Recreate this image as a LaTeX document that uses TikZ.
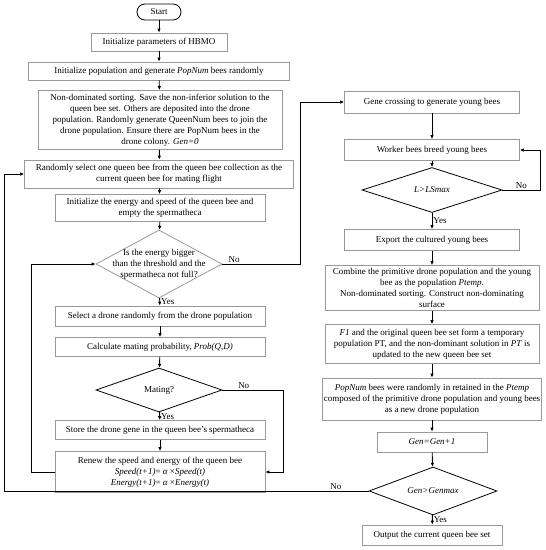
\documentclass[tikz,border=0pt]{standalone}
\usepackage{fontspec}
\setmainfont{Liberation Serif}
\usetikzlibrary{positioning, arrows.meta, shapes.geometric, calc}

\begin{document}
\begin{tikzpicture}[x=1pt, y=-1pt,
    font=\fontsize{9}{11}\selectfont,
    box/.style={rectangle, draw=black!40, line width=0.7pt, align=center, inner sep=1pt},
    decision/.style={diamond, draw, line width=0.8pt, inner sep=0pt},
    flow/.style={-{Latex[length=4pt, width=3.5pt]}, line width=0.9pt},
    tag/.style={inner sep=1pt}]
    \useasboundingbox (0,0) rectangle (546,550);

    % left column
    \node[draw, line width=0.8pt, rounded corners=8pt, minimum width=44pt, minimum height=16pt] (start) at (159,12) {Start};
    \node[box, minimum width=136pt, minimum height=18pt] (init) at (159,42) {Initialize parameters of  HBMO};
    \node[box, minimum width=261pt, minimum height=18pt] (pop) at (159,71) {Initialize population and generate \textit{PopNum} bees randomly};
    \node[box, minimum width=244pt, minimum height=59pt] (sort) at (160,120) {Non-dominated sorting. Save the non-inferior solution to the\\queen bee set. Others are deposited into the drone\\population. Randomly generate QueenNum bees to join the\\drone population. Ensure there are PopNum bees in the\\drone colony. \textit{Gen=0}};
    \node[box, minimum width=269pt, minimum height=28pt] (select) at (159,174) {Randomly select one queen bee from the queen bee collection as the\\current queen bee for mating flight};
    \node[box, minimum width=210pt, minimum height=27pt] (energy) at (160,208) {Initialize the energy and speed of the queen bee and\\empty the spermatheca};
    \node[decision, draw=black!40, minimum width=126pt, minimum height=68pt,
          label={[align=center]center:Is the energy bigger\\than the threshold and the\\spermatheca not full?}] (full) at (159,264) {};
    \node[box, minimum width=210pt, minimum height=20pt] (drone) at (160,316) {Select a drone randomly from the drone population};
    \node[box, minimum width=210pt, minimum height=19pt] (prob) at (160,347) {Calculate mating probability, \textit{Prob(Q,D)}};
    \node[decision, minimum width=126pt, minimum height=44pt, label={center:Mating?}] (mating) at (159,390) {};
    \node[box, minimum width=210pt, minimum height=19pt] (store) at (160,430) {Store the drone gene in the queen bee's spermatheca};
    \node[box, minimum width=210pt, minimum height=41pt] (renew) at (160,472) {Renew the speed and energy of the queen bee\\\textit{Speed(t+1)}= \textit{α} ×\textit{Speed(t)}\\\textit{Energy(t+1)}= \textit{α} ×\textit{Energy(t)}};

    % right column
    \node[box, minimum width=175pt, minimum height=22pt] (cross) at (432,102) {Gene crossing to generate young bees};
    \node[box, minimum width=175pt, minimum height=21pt] (breed) at (432,150) {Worker bees breed young bees};
    \node[decision, minimum width=140pt, minimum height=45pt, label={center:\textit{L>LSmax}}] (lsmax) at (432,190) {};
    \node[box, minimum width=175pt, minimum height=21pt] (export) at (432,240) {Export the cultured young bees};
    \node[box, minimum width=214pt, minimum height=45pt] (combine) at (432,288) {Combine the primitive drone population and the young\\bee as the population \textit{Ptemp}.\\Non-dominated sorting. Construct non-dominating\\surface};
    \node[box, minimum width=214pt, minimum height=39pt] (form) at (432,344) {\textit{F1} and the original queen bee set form a temporary\\population PT, and the non-dominant solution in \textit{PT} is\\updated to the new queen bee set};
    \node[box, minimum width=214pt, minimum height=42pt] (retain) at (432,399) {\textit{PopNum} bees were randomly in retained in the \textit{Ptemp}\\composed of the primitive drone population and young bees\\as a new drone population};
    \node[box, minimum width=110pt, minimum height=20pt] (inc) at (432,442) {\textit{Gen=Gen+1}};
    \node[decision, minimum width=128pt, minimum height=48pt, label={center:\textit{Gen>Genmax}}] (genmax) at (433,491) {};
    \node[box, minimum width=140pt, minimum height=20pt] (output) at (432,535) {Output the current queen bee set};

    % main flow
    \draw[flow] (start) -- (init);
    \draw[flow] (init) -- (pop);
    \draw[flow] (pop) -- (sort);
    \draw[flow] (sort) -- (select);
    \draw[flow] (select) -- (energy);
    \draw[flow] (energy) -- (full);
    \draw[flow] (full) -- node[tag, right]{Yes} (drone);
    \draw[flow] (drone) -- (prob);
    \draw[flow] (prob) -- (mating);
    \draw[flow] (mating) -- node[tag, right]{Yes} (store);
    \draw[flow] (store) -- (renew);
    \draw[flow] (mating.east) -- node[tag, above, pos=0.35]{No} ++(61,0) |- (renew.east);
    \draw[flow] (renew.west) -- ++(-23,0) |- (full.west);
    \draw[flow] (full.east) -- node[tag, above, pos=0.15]{No} ++(78,0) |- (cross.west);

    \draw[flow] (cross) -- (breed);
    \draw[flow] (breed) -- (lsmax);
    \draw[flow] (lsmax.east) -- node[tag, above]{No} ++(38,0) |- (breed.east);
    \draw[flow] (lsmax) -- node[tag, right]{Yes} (export);
    \draw[flow] (export) -- (combine);
    \draw[flow] (combine) -- (form);
    \draw[flow] (form) -- (retain);
    \draw[flow] (retain) -- (inc);
    \draw[flow] (inc) -- (genmax);
    \draw[flow] (genmax) -- node[tag, right]{Yes} (output);
    \draw[flow] (genmax.west) -- node[tag, above, pos=0.09]{No} (4,491) |- (select.west);
\end{tikzpicture}
\end{document}
